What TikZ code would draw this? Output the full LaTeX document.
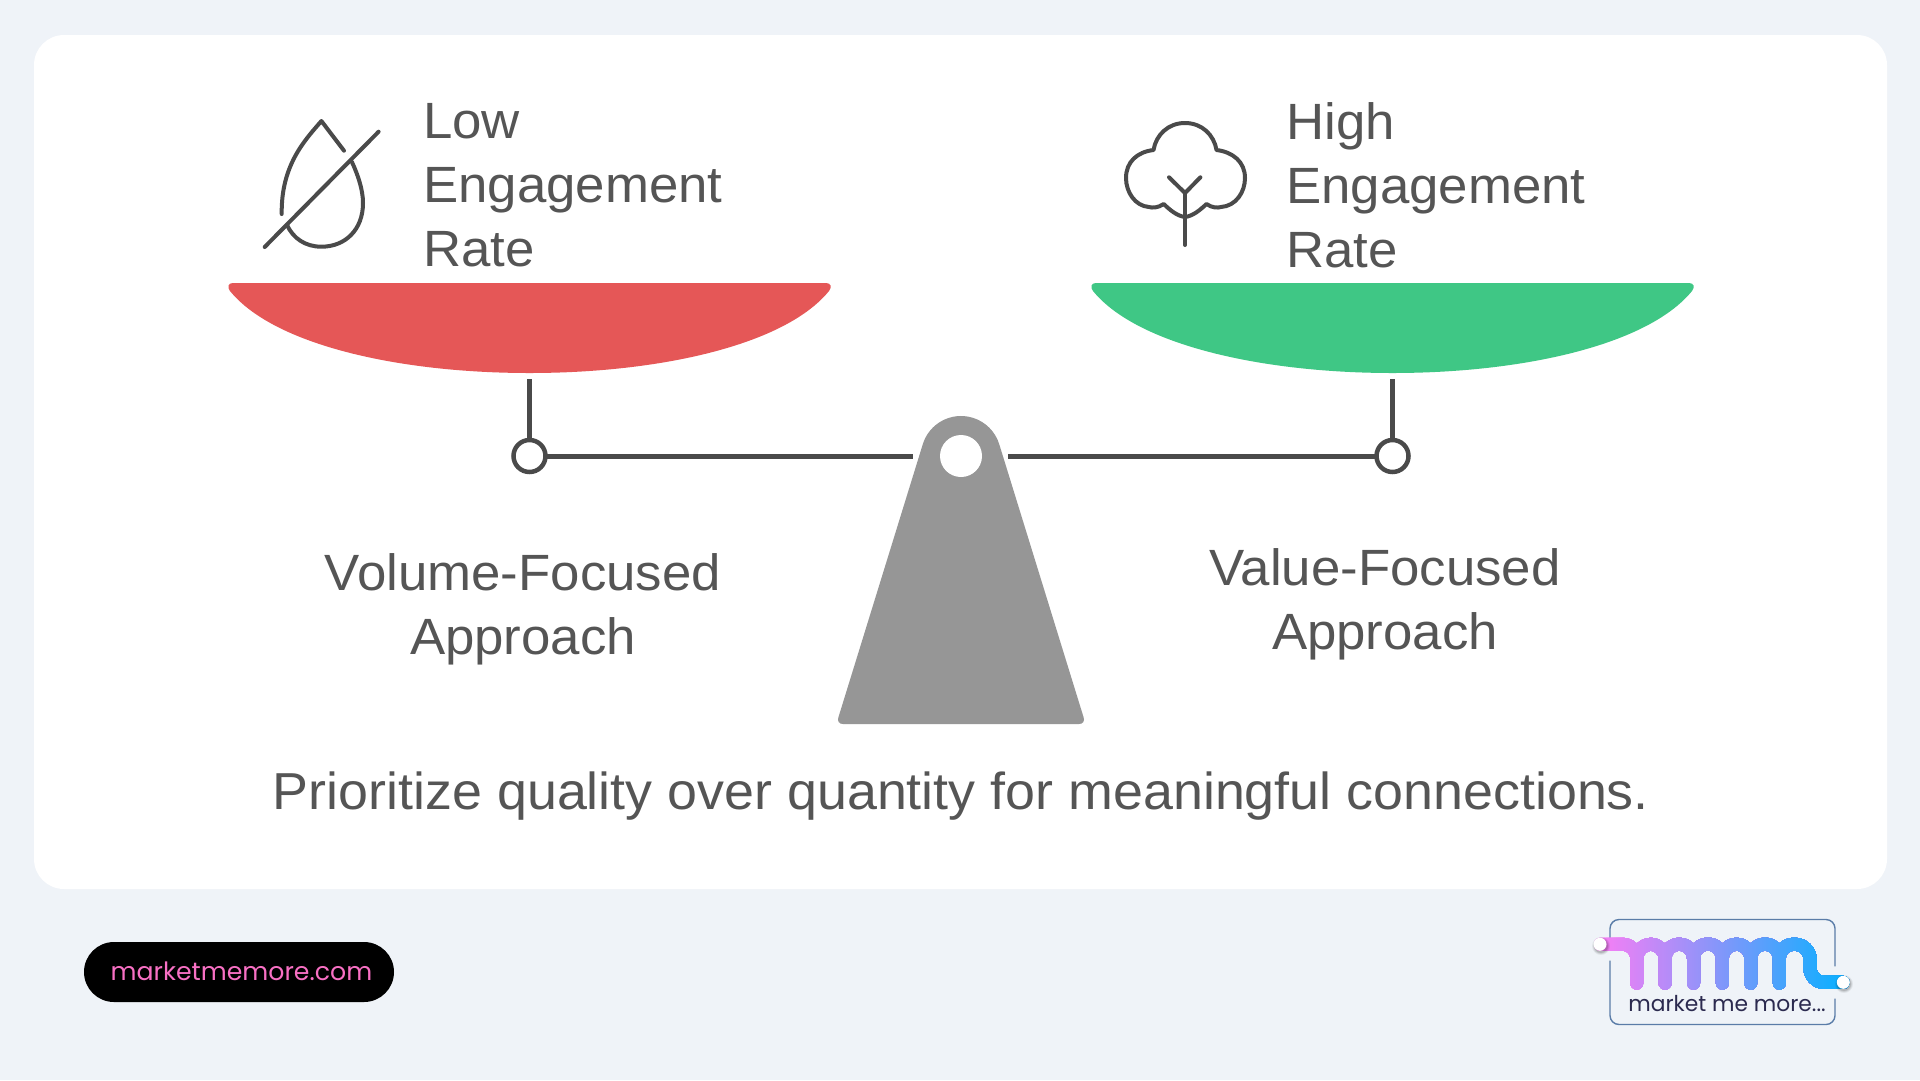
\documentclass[tikz,border=0pt]{standalone}
\usepackage{fontspec}
\setmainfont[FakeStretch=1.035]{Liberation Sans}
\newfontfamily\pop{Poppins}
\definecolor{pagebg}{HTML}{EFF3F8}
\definecolor{redbowl}{HTML}{E55757}
\definecolor{greenbowl}{HTML}{3FC785}
\definecolor{standgrey}{HTML}{969696}
\definecolor{ink}{HTML}{4A4A4A}
\definecolor{txt}{HTML}{555555}
\definecolor{pinktxt}{HTML}{F870C4}
\definecolor{logoline}{HTML}{5A7CA8}
\definecolor{logotxt}{HTML}{2B2A4F}
\definecolor{gradA}{HTML}{F77EF5}
\definecolor{gradB}{HTML}{0AB0FF}
\tikzset{
  x=1pt,y=-1pt,
  headtext/.style={text=txt,font=\fontsize{51}{64}\selectfont,align=left,inner sep=0pt,anchor=west},
  captext/.style={text=txt,font=\fontsize{51}{64}\selectfont,align=center,inner sep=0pt},
  icon/.style={draw=ink,line width=4pt,line cap=round,line join=round,fill=none},
  beam/.style={draw=ink,line width=5pt},
  stem/.style={draw=ink,line width=4.5pt},
  hinge/.style={circle,draw=ink,line width=4.5pt,fill=white,minimum size=32pt,inner sep=0pt,outer sep=0pt},
  logoedge/.style={draw=logoline,line width=1.4pt,line cap=round},
  squig/.style={line width=13pt,line cap=round,line join=round},
  dot/.style={circle,fill=white,minimum size=13pt,inner sep=0pt,outer sep=0pt},
}
\begin{document}
\begin{tikzpicture}
\useasboundingbox (0,0) rectangle (1920,1080);
\fill[pagebg] (0,0) rectangle (1920,1080);
\fill[white,rounded corners=30pt] (34,35) rectangle (1887,889);

% bowls
\fill[redbowl] (233,283) -- (826,283) .. controls (831,283) and (832,287) .. (829,291)
  .. controls (785,345) and (660,373) .. (529.5,373)
  .. controls (399,373) and (274,345) .. (230,291)
  .. controls (227,287) and (228,283) .. (233,283) -- cycle;
\fill[greenbowl] (1096,283) -- (1689,283) .. controls (1694,283) and (1695,287) .. (1692,291)
  .. controls (1648,345) and (1523,373) .. (1392.5,373)
  .. controls (1262,373) and (1137,345) .. (1093,291)
  .. controls (1090,287) and (1091,283) .. (1096,283) -- cycle;

% beam
\coordinate (stemL) at (529.5,379);
\coordinate (stemR) at (1392.5,379);
\coordinate (beamL) at (913,456);
\coordinate (beamR) at (1008,456);
\node[hinge] (hingeL) at (529.5,456) {};
\node[hinge] (hingeR) at (1392.5,456) {};
\draw[stem] (stemL) -- (hingeL.north);
\draw[stem] (stemR) -- (hingeR.north);
\draw[beam] (hingeL.east) -- (beamL);
\draw[beam] (hingeR.west) -- (beamR);

% stand
\fill[standgrey] (922.7,444.5) arc[start angle=196.7,end angle=343.3,radius=40]
  -- (1083.5,717) .. controls (1085,721) and (1083,724) .. (1079,724)
  -- (843,724) .. controls (839,724) and (837,721) .. (838.5,717) -- cycle;
\fill[white] (961,456) circle[radius=21];

% drop icon
\draw[icon] (344,150.7) -- (321.4,121) .. controls (305,140) and (281,165) .. (281.7,214);
\draw[icon] (351.8,161.7) .. controls (358,175) and (363,190) .. (363,203)
  .. controls (363,230) and (345,246.7) .. (321.4,246.7)
  .. controls (305,246.7) and (293,238) .. (287,225);
\draw[icon] (264.7,247) -- (378.6,131.7);

% tree icon
\draw[icon] (1185,217) .. controls (1177,216) and (1170,210) .. (1163.7,204)
  .. controls (1158,208) and (1152,208) .. (1149,207)
  .. controls (1135,206) and (1126,192) .. (1126,178)
  .. controls (1126,162) and (1137,152) .. (1153.5,150)
  .. controls (1156,135) and (1168,123) .. (1185,123)
  .. controls (1202,123) and (1214,135) .. (1216.5,150)
  .. controls (1233,152) and (1245,162) .. (1245,178)
  .. controls (1245,192) and (1236,206) .. (1221,207)
  .. controls (1218,208) and (1212,208) .. (1206.5,204)
  .. controls (1200,210) and (1193,216) .. (1185,217);
\draw[icon] (1185,245) -- (1185,193);
\draw[icon] (1169,177.3) -- (1185,193) -- (1200.4,177.3);

% texts
\node[headtext] (lowtxt) at (423,185) {Low\\Engagement\\Rate};
\node[headtext] (hightxt) at (1286,185) {High\\Engagement\\Rate};
\node[captext] (voltxt) at (523,609) {Volume-Focused\\Approach};
\node[captext] (valtxt) at (1385,604) {Value-Focused\\Approach};
\node[text=txt,font=\fontsize{52}{60}\selectfont,inner sep=0pt] (quote) at (961,796) {Prioritize quality over quantity for meaningful connections.};

% pill
\node[fill=black,rounded corners=30pt,minimum width=310pt,minimum height=60pt,inner sep=0pt,outer sep=0pt] (pill) at (239,972) {};
\node[text=pinktxt,font=\pop\fontsize{25.2}{30}\selectfont,inner sep=0pt,anchor=base] (site) at (241.5,980) {marketmemore.com};

% logo frame
\coordinate (fa) at (1610,938);
\coordinate (fb) at (1835,966);
\coordinate (fc) at (1610,961);
\coordinate (fd) at (1835,999);
\draw[logoedge,rounded corners=9pt] (fa) -- (1610,919.5) -- (1835,919.5) -- (fb);
\draw[logoedge,rounded corners=9pt] (fc) -- (1610,1024.5) -- (1835,1024.5) -- (fd);

% logo squiggle, painted in overlapping slices for the colour ramp
\foreach \sx in {1594,1596,...,1850}{
  \pgfmathsetmacro\mixv{max(0,min(100,(\sx-1600)/(1843-1600)*100))}
  \colorlet{sqc}{gradB!\mixv!gradA}
  \begin{scope}
    \clip (\sx,925) rectangle (1860,1000);
    \draw[sqc,squig] (1600,944.3) -- (1622.5,944.3) arc[start angle=270,end angle=360,radius=14.2] -- (1636.7,983);
    \draw[sqc,squig] (1636.7,958.5) arc[start angle=180,end angle=360,radius=14.15] -- (1665,983);
    \draw[sqc,squig] (1665,958.5) arc[start angle=180,end angle=360,radius=14.25] -- (1693.5,983);
    \draw[sqc,squig] (1693.5,958.5) arc[start angle=180,end angle=360,radius=14.4] -- (1722.3,983);
    \draw[sqc,squig] (1722.3,958.5) arc[start angle=180,end angle=360,radius=14.2] -- (1750.7,983);
    \draw[sqc,squig] (1750.7,958.5) arc[start angle=180,end angle=360,radius=14.3] -- (1779.3,983);
    \draw[sqc,squig] (1779.3,958.5) arc[start angle=180,end angle=270,radius=14.2] -- (1795,944.3) arc[start angle=270,end angle=360,radius=15] -- (1810,968) arc[start angle=180,end angle=90,radius=14.4] -- (1843,982.4);
  \end{scope}
}
\foreach \rr/\oo in {9/.06,8/.09,7/.12}{
  \fill[black,opacity=\oo] (1601,946) circle[radius=\rr];
  \fill[black,opacity=\oo] (1844,984) circle[radius=\rr];
}
\node[dot] (dotA) at (1600,944.3) {};
\node[dot] (dotB) at (1843.3,982.3) {};
\node[text=logotxt,font=\pop\fontsize{21.8}{25}\selectfont,inner sep=0pt,anchor=base] (brand) at (1727,1011) {market me more...};
\end{tikzpicture}
\end{document}
